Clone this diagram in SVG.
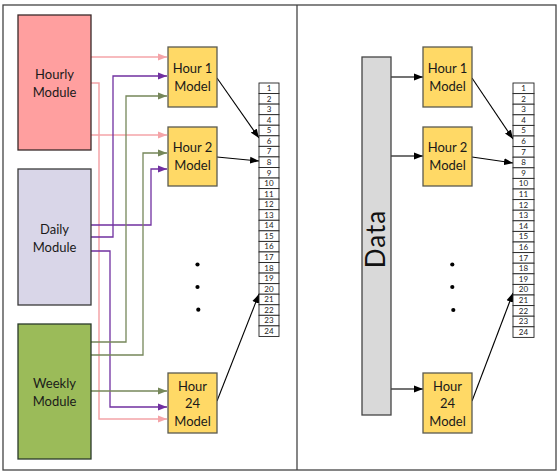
<svg xmlns="http://www.w3.org/2000/svg" width="558" height="472" viewBox="0 0 558 472">
<style>
.lbl{font-family:Lato,"Liberation Sans",sans-serif;font-size:13px;fill:#1a1a1a;text-anchor:middle}
.num{font-family:Lato,"Liberation Sans",sans-serif;font-size:8px;fill:#1a1a1a;text-anchor:middle}
.model{fill:#FFD966;stroke:#5a5a50;stroke-width:1.3}
.cell{fill:#fff;stroke:#222;stroke-width:0.9}
.pk{fill:none;stroke:#F4A4A8;stroke-width:1.5}
.pu{fill:none;stroke:#7030A0;stroke-width:1.3}
.ol{fill:none;stroke:#76875A;stroke-width:1.3}
.bk{fill:none;stroke:#000;stroke-width:1.1}
</style>
<defs>
<marker id="aPk" markerUnits="userSpaceOnUse" markerWidth="10" markerHeight="8" refX="9" refY="4" orient="auto"><path d="M0,0.5 L9,4 L0,7.5 Z" fill="#F4A4A8"/></marker>
<marker id="aPu" markerUnits="userSpaceOnUse" markerWidth="10" markerHeight="8" refX="9" refY="4" orient="auto"><path d="M0,0.5 L9,4 L0,7.5 Z" fill="#7030A0"/></marker>
<marker id="aOl" markerUnits="userSpaceOnUse" markerWidth="10" markerHeight="8" refX="9" refY="4" orient="auto"><path d="M0,0.5 L9,4 L0,7.5 Z" fill="#76875A"/></marker>
<marker id="aBk" markerUnits="userSpaceOnUse" markerWidth="10" markerHeight="8" refX="9" refY="4" orient="auto"><path d="M0,0.5 L9,4 L0,7.5 Z" fill="#000"/></marker>
</defs>
<rect width="558" height="472" fill="#fff"/>
<g id="frame" fill="none" stroke="#444" stroke-width="1.3">
<rect x="3" y="5" width="553" height="465"/>
<line x1="297" y1="5" x2="297" y2="470"/>
</g>

<g id="connectors">
<path class="pk" d="M91,57 H167" marker-end="url(#aPk)"/>
<path class="pk" d="M91,135 H167" marker-end="url(#aPk)"/>
<path class="pk" d="M91,83 H99 V419 H167" marker-end="url(#aPk)"/>
<path class="pu" d="M91,237 H113 V76 H167" marker-end="url(#aPu)"/>
<path class="pu" d="M91,225 H151 V169 H167" marker-end="url(#aPu)"/>
<path class="pu" d="M91,251 H110 V407 H167" marker-end="url(#aPu)"/>
<path class="ol" d="M91,342 H126 V96 H167" marker-end="url(#aOl)"/>
<path class="ol" d="M91,355 H143 V153 H167" marker-end="url(#aOl)"/>
<path class="ol" d="M91,391 H167" marker-end="url(#aOl)"/>
<path class="bk" d="M217,78 L259,138" marker-end="url(#aBk)"/>
<path class="bk" d="M217,157 L259,161" marker-end="url(#aBk)"/>
<path class="bk" d="M217,401 L259,294" marker-end="url(#aBk)"/>
<path class="bk" d="M391,77 H423" marker-end="url(#aBk)"/>
<path class="bk" d="M391,156 H423" marker-end="url(#aBk)"/>
<path class="bk" d="M391,389 H423" marker-end="url(#aBk)"/>
<path class="bk" d="M472,78 L513,139" marker-end="url(#aBk)"/>
<path class="bk" d="M472,157 L513,163" marker-end="url(#aBk)"/>
<path class="bk" d="M472,401 L513,293" marker-end="url(#aBk)"/>
</g>

<g id="hourly-module">
<rect x="18" y="15" width="73" height="135" fill="#FF9F9F" stroke="#3a2a2a" stroke-width="1.3"/>
<text class="lbl" x="54.5" y="79">Hourly</text>
<text class="lbl" x="54.5" y="97">Module</text>
</g>
<g id="daily-module">
<rect x="18" y="169" width="73" height="136" fill="#D9D6E8" stroke="#3a3a3a" stroke-width="1.3"/>
<text class="lbl" x="54.5" y="234">Daily</text>
<text class="lbl" x="54.5" y="252">Module</text>
</g>
<g id="weekly-module">
<rect x="18" y="324" width="73" height="135" fill="#9BBB59" stroke="#2a3a2a" stroke-width="1.3"/>
<text class="lbl" x="54.5" y="388">Weekly</text>
<text class="lbl" x="54.5" y="406">Module</text>
</g>

<g id="l-hour1">
<rect class="model" x="168" y="47" width="49" height="60"/>
<text class="lbl" x="192.5" y="73">Hour 1</text>
<text class="lbl" x="192.5" y="91">Model</text>
</g>
<g id="l-hour2">
<rect class="model" x="168" y="127" width="49" height="59"/>
<text class="lbl" x="192.5" y="152">Hour 2</text>
<text class="lbl" x="192.5" y="170">Model</text>
</g>
<g id="l-hour24">
<rect class="model" x="168" y="373" width="49" height="60"/>
<text class="lbl" x="192.5" y="391">Hour</text>
<text class="lbl" x="192.5" y="408">24</text>
<text class="lbl" x="192.5" y="426">Model</text>
</g>
<g id="l-dots" fill="#000">
<circle cx="197.5" cy="264.5" r="2.1"/>
<circle cx="197.5" cy="287" r="2.1"/>
<circle cx="198.3" cy="309.7" r="2.1"/>
</g>

<g id="l-output">
<rect class="cell" x="259" y="83" width="20" height="10.56"/><text class="num" x="269" y="91">1</text>
<rect class="cell" x="259" y="93.56" width="20" height="10.56"/><text class="num" x="269" y="101.6">2</text>
<rect class="cell" x="259" y="104.12" width="20" height="10.56"/><text class="num" x="269" y="112.1">3</text>
<rect class="cell" x="259" y="114.68" width="20" height="10.56"/><text class="num" x="269" y="122.7">4</text>
<rect class="cell" x="259" y="125.24" width="20" height="10.56"/><text class="num" x="269" y="133.2">5</text>
<rect class="cell" x="259" y="135.8" width="20" height="10.56"/><text class="num" x="269" y="143.8">6</text>
<rect class="cell" x="259" y="146.36" width="20" height="10.56"/><text class="num" x="269" y="154.4">7</text>
<rect class="cell" x="259" y="156.92" width="20" height="10.56"/><text class="num" x="269" y="164.9">8</text>
<rect class="cell" x="259" y="167.48" width="20" height="10.56"/><text class="num" x="269" y="175.5">9</text>
<rect class="cell" x="259" y="178.04" width="20" height="10.56"/><text class="num" x="269" y="186">10</text>
<rect class="cell" x="259" y="188.6" width="20" height="10.56"/><text class="num" x="269" y="196.6">11</text>
<rect class="cell" x="259" y="199.16" width="20" height="10.56"/><text class="num" x="269" y="207.2">12</text>
<rect class="cell" x="259" y="209.72" width="20" height="10.56"/><text class="num" x="269" y="217.7">13</text>
<rect class="cell" x="259" y="220.28" width="20" height="10.56"/><text class="num" x="269" y="228.3">14</text>
<rect class="cell" x="259" y="230.84" width="20" height="10.56"/><text class="num" x="269" y="238.8">15</text>
<rect class="cell" x="259" y="241.4" width="20" height="10.56"/><text class="num" x="269" y="249.4">16</text>
<rect class="cell" x="259" y="251.96" width="20" height="10.56"/><text class="num" x="269" y="260">17</text>
<rect class="cell" x="259" y="262.52" width="20" height="10.56"/><text class="num" x="269" y="270.5">18</text>
<rect class="cell" x="259" y="273.08" width="20" height="10.56"/><text class="num" x="269" y="281.1">19</text>
<rect class="cell" x="259" y="283.64" width="20" height="10.56"/><text class="num" x="269" y="291.6">20</text>
<rect class="cell" x="259" y="294.2" width="20" height="10.56"/><text class="num" x="269" y="302.2">21</text>
<rect class="cell" x="259" y="304.76" width="20" height="10.56"/><text class="num" x="269" y="312.8">22</text>
<rect class="cell" x="259" y="315.32" width="20" height="10.56"/><text class="num" x="269" y="323.3">23</text>
<rect class="cell" x="259" y="325.88" width="20" height="10.56"/><text class="num" x="269" y="333.9">24</text>
</g>

<g id="data">
<rect x="362" y="57" width="29" height="358" fill="#D9D9D9" stroke="#444" stroke-width="1.3"/>
<text transform="translate(385,239) rotate(-90)" style="font-family:Lato,'Liberation Sans',sans-serif;font-size:26px;fill:#111;text-anchor:middle;letter-spacing:1px">Data</text>
</g>

<g id="r-hour1">
<rect class="model" x="423" y="47" width="49" height="60"/>
<text class="lbl" x="447.5" y="73">Hour 1</text>
<text class="lbl" x="447.5" y="91">Model</text>
</g>
<g id="r-hour2">
<rect class="model" x="423" y="127" width="49" height="59"/>
<text class="lbl" x="447.5" y="152">Hour 2</text>
<text class="lbl" x="447.5" y="170">Model</text>
</g>
<g id="r-hour24">
<rect class="model" x="423" y="373" width="49" height="60"/>
<text class="lbl" x="447.5" y="391">Hour</text>
<text class="lbl" x="447.5" y="408">24</text>
<text class="lbl" x="447.5" y="426">Model</text>
</g>
<g id="r-dots" fill="#000">
<circle cx="452.3" cy="264.5" r="2.1"/>
<circle cx="452.3" cy="287" r="2.1"/>
<circle cx="453.3" cy="310" r="2.1"/>
</g>

<g id="r-output">
<rect class="cell" x="513" y="83" width="21" height="10.6"/><text class="num" x="523.5" y="91">1</text>
<rect class="cell" x="513" y="93.6" width="21" height="10.6"/><text class="num" x="523.5" y="101.6">2</text>
<rect class="cell" x="513" y="104.2" width="21" height="10.6"/><text class="num" x="523.5" y="112.2">3</text>
<rect class="cell" x="513" y="114.8" width="21" height="10.6"/><text class="num" x="523.5" y="122.8">4</text>
<rect class="cell" x="513" y="125.4" width="21" height="10.6"/><text class="num" x="523.5" y="133.4">5</text>
<rect class="cell" x="513" y="136" width="21" height="10.6"/><text class="num" x="523.5" y="144">6</text>
<rect class="cell" x="513" y="146.6" width="21" height="10.6"/><text class="num" x="523.5" y="154.6">7</text>
<rect class="cell" x="513" y="157.2" width="21" height="10.6"/><text class="num" x="523.5" y="165.2">8</text>
<rect class="cell" x="513" y="167.8" width="21" height="10.6"/><text class="num" x="523.5" y="175.8">9</text>
<rect class="cell" x="513" y="178.4" width="21" height="10.6"/><text class="num" x="523.5" y="186.4">10</text>
<rect class="cell" x="513" y="189" width="21" height="10.6"/><text class="num" x="523.5" y="197">11</text>
<rect class="cell" x="513" y="199.6" width="21" height="10.6"/><text class="num" x="523.5" y="207.6">12</text>
<rect class="cell" x="513" y="210.2" width="21" height="10.6"/><text class="num" x="523.5" y="218.2">13</text>
<rect class="cell" x="513" y="220.8" width="21" height="10.6"/><text class="num" x="523.5" y="228.8">14</text>
<rect class="cell" x="513" y="231.4" width="21" height="10.6"/><text class="num" x="523.5" y="239.4">15</text>
<rect class="cell" x="513" y="242" width="21" height="10.6"/><text class="num" x="523.5" y="250">16</text>
<rect class="cell" x="513" y="252.6" width="21" height="10.6"/><text class="num" x="523.5" y="260.6">17</text>
<rect class="cell" x="513" y="263.2" width="21" height="10.6"/><text class="num" x="523.5" y="271.2">18</text>
<rect class="cell" x="513" y="273.8" width="21" height="10.6"/><text class="num" x="523.5" y="281.8">19</text>
<rect class="cell" x="513" y="284.4" width="21" height="10.6"/><text class="num" x="523.5" y="292.4">20</text>
<rect class="cell" x="513" y="295" width="21" height="10.6"/><text class="num" x="523.5" y="303">21</text>
<rect class="cell" x="513" y="305.6" width="21" height="10.6"/><text class="num" x="523.5" y="313.6">22</text>
<rect class="cell" x="513" y="316.2" width="21" height="10.6"/><text class="num" x="523.5" y="324.2">23</text>
<rect class="cell" x="513" y="326.8" width="21" height="10.6"/><text class="num" x="523.5" y="334.8">24</text>
</g>
</svg>
